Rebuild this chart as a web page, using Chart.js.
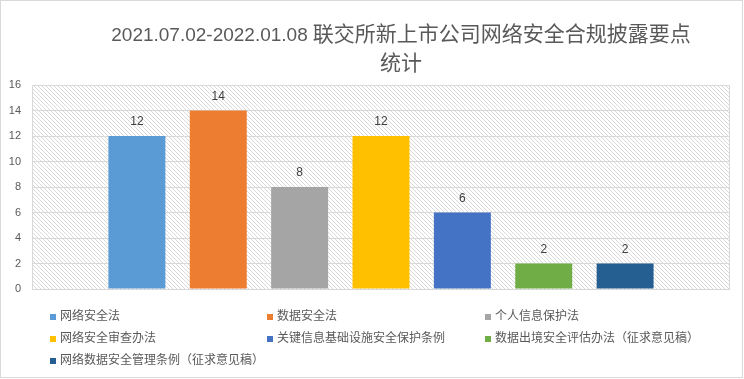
<!DOCTYPE html>
<html>
<head>
<meta charset="utf-8">
<script src="https://cdn.jsdelivr.net/npm/chart.js@4/dist/chart.umd.min.js"></script>
<style>
  html, body { margin: 0; padding: 0; background: #fff; }
  #wrap { position: relative; width: 744px; height: 379px; }
  canvas { display: block; }
</style>
</head>
<body>
<div id="wrap"><canvas id="c" width="744" height="379"></canvas></div>
<script>
// ---- data ----
const titleLatin = '2021.07.02-2022.01.08';
const titleCjk = '联交所新上市公司网络安全合规披露要点';
const titleLine2 = '统计';
const categories = [''];
const seriesNames = [
  '网络安全法',
  '数据安全法',
  '个人信息保护法',
  '网络安全审查办法',
  '关键信息基础设施安全保护条例',
  '数据出境安全评估办法（征求意见稿）',
  '网络数据安全管理条例（征求意见稿）'
];
const seriesValues = [12, 14, 8, 12, 6, 2, 2];
const yTicks = [0, 2, 4, 6, 8, 10, 12, 14, 16];

// ---- styles ----
const seriesColors = ['#5B9BD5', '#ED7D31', '#A5A5A5', '#FFC000', '#4472C4', '#70AD47', '#255E91'];
const textColor = '#595959';
const gridColor = '#d9d9d9';
const latinFont = "'Liberation Sans', 'Noto Sans CJK SC', sans-serif";
const cjkFont = "'Liberation Sans', 'Noto Sans CJK SC', sans-serif";

function makeHatch() {
  const t = document.createElement('canvas');
  t.width = 4; t.height = 4;
  const g = t.getContext('2d');
  g.fillStyle = '#fff';
  g.fillRect(0, 0, 4, 4);
  g.fillStyle = '#d9d9d9';
  for (let i = 0; i < 4; i++) g.fillRect(i, i, 1, 1);
  return t;
}

const decorPlugin = {
  id: 'decor',
  beforeDraw(chart) {
    const ctx = chart.ctx, a = chart.chartArea;
    ctx.save();
    ctx.fillStyle = '#fff';
    ctx.fillRect(0, 0, chart.width, chart.height);
    ctx.fillStyle = ctx.createPattern(makeHatch(), 'repeat');
    ctx.fillRect(a.left, a.top, a.right - a.left, a.bottom - a.top);
    ctx.restore();
  },
  afterDatasetsDraw(chart) {
    const ctx = chart.ctx, a = chart.chartArea;
    ctx.save();
    ctx.strokeStyle = gridColor;
    ctx.lineWidth = 1;
    ctx.strokeRect(Math.round(a.left) + 0.5, Math.round(a.top) + 0.5,
                   Math.round(a.right - a.left) - 1, Math.round(a.bottom - a.top));
    // value labels
    ctx.fillStyle = '#404040';
    ctx.font = "12px " + latinFont;
    ctx.textAlign = 'center';
    ctx.textBaseline = 'middle';
    chart.data.datasets.forEach((ds, i) => {
      const meta = chart.getDatasetMeta(i);
      meta.data.forEach((bar, j) => {
        const v = ds.data[j];
        if (v == null) return;
        ctx.fillText(String(v), bar.x, bar.y - 14);
      });
    });
    ctx.restore();
  },
  afterDraw(chart) {
    const ctx = chart.ctx;
    ctx.save();
    // title (two font sizes, centred at x=401)
    ctx.fillStyle = textColor;
    ctx.textBaseline = 'alphabetic';
    ctx.textAlign = 'left';
    const fLatin = "19px " + latinFont, fCjk = "21px " + cjkFont;
    ctx.font = fLatin; const wL = ctx.measureText(titleLatin).width;
    ctx.font = fCjk; const wC = ctx.measureText(titleCjk).width;
    const gap = 5;
    const x0 = 401 - (wL + gap + wC) / 2;
    ctx.font = fLatin; ctx.fillText(titleLatin, x0, 41);
    ctx.font = fCjk; ctx.fillText(titleCjk, x0 + wL + gap, 41);
    ctx.textAlign = 'center';
    ctx.fillText(titleLine2, 401, 70);
    // legend
    const colX = [50, 267, 485];
    const rowY = [317, 339, 361];
    ctx.font = "12px " + cjkFont;
    ctx.textAlign = 'left';
    ctx.textBaseline = 'middle';
    seriesNames.forEach((name, i) => {
      const x = colX[i % 3], y = rowY[Math.floor(i / 3)];
      ctx.fillStyle = seriesColors[i];
      ctx.fillRect(x, y - 3, 6, 6);
      ctx.fillStyle = textColor;
      ctx.fillText(name, x + 10, y);
    });
    // outer border
    ctx.strokeStyle = gridColor;
    ctx.strokeRect(0.5, 0.5, 742, 377);
    ctx.restore();
  }
};

new Chart(document.getElementById('c'), {
  type: 'bar',
  data: {
    labels: categories,
    datasets: seriesNames.map((name, i) => ({
      label: name,
      data: [seriesValues[i]],
      backgroundColor: seriesColors[i],
      borderWidth: 0,
      categoryPercentage: 0.816,
      barPercentage: 0.70
    }))
  },
  options: {
    responsive: false,
    animation: false,
    events: [],
    layout: { padding: { top: 85, bottom: 90, left: 0, right: 14 } },
    plugins: { legend: { display: false }, title: { display: false }, tooltip: { enabled: false } },
    scales: {
      x: { display: false },
      y: {
        min: 0, max: 16,
        afterFit(s) { s.width = 32; },
        afterBuildTicks(s) { s.ticks = yTicks.map(v => ({ value: v })); },
        grid: { color: gridColor, drawTicks: false },
        border: { display: false },
        ticks: { color: textColor, padding: 11, font: { size: 11, family: latinFont } }
      }
    }
  },
  plugins: [decorPlugin]
});
</script>
</body>
</html>
